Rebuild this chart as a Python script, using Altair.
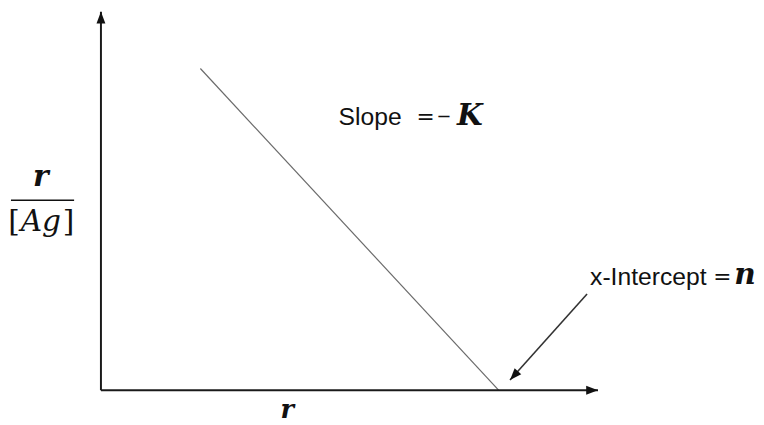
import altair as alt
import pandas as pd

# ---- data (in chart units: r along x, r/[Ag] along y) ----
line_r = [2.0, 8.0]          # Scatchard line start / x-intercept
line_y = [8.5, 0.0]

axis_x_r = [0.0, 10.0]       # x axis (r)
axis_x_y = [0.0, 0.0]
axis_y_r = [0.0, 0.0]        # y axis (r/[Ag])
axis_y_y = [0.0, 10.0]

ann_r = [9.78, 8.23]         # annotation arrow from label to intercept
ann_y = [2.54, 0.27]

head_r = [0.0, 10.0, 8.23]
head_y = [10.0, 0.0, 0.27]
head_angle = [0, 90, 222]

frac_r = [-1.81, -0.54]
frac_y = [5.02, 5.02]

sans_text = ["Slope", "x-Intercept"]
sans_r = [4.78, 9.84]
sans_y = [7.21, 2.99]

eq_text = ["=", "="]
eq_r = [6.53, 12.50]
eq_y = [7.21, 2.99]

minus_text = ["\u2212"]
minus_r = [6.90]
minus_y = [7.21]

var_text = ["K", "n", "r"]
var_r = [7.42, 12.96, -1.21]
var_y = [7.25, 3.05, 5.62]

xlab_text = ["r"]
xlab_r = [3.75]
xlab_y = [-0.535]

br_text = ["[", "]"]
br_r = [-1.75, -0.65]
br_y = [4.45, 4.45]

ag_text = ["Ag"]
ag_r = [-1.21]
ag_y = [4.45]

X_DOMAIN = [-1.85, 13.0]
Y_DOMAIN = [-0.665, 10.0]

SANS = "Liberation Sans"
SERIF = "DejaVu Serif"

xs = alt.Scale(domain=X_DOMAIN, nice=False, zero=False)
ys = alt.Scale(domain=Y_DOMAIN, nice=False, zero=False)


def X(f="r"):
    return alt.X(f, type="quantitative", scale=xs, axis=None)


def Y(f="y"):
    return alt.Y(f, type="quantitative", scale=ys, axis=None)


def segment(r, y, color, width):
    df = pd.DataFrame({"r": [r[0]], "y": [y[0]], "r2": [r[1]], "y2": [y[1]]})
    return alt.Chart(df).mark_rule(color=color, strokeWidth=width).encode(
        x=X(), y=Y(), x2="r2", y2="y2"
    )


def texts(r, y, t, **kw):
    return alt.Chart(pd.DataFrame({"r": r, "y": y, "t": t})).mark_text(
        baseline="middle", color="#111111", **kw
    ).encode(x=X(), y=Y(), text="t:N")


main_line = alt.Chart(pd.DataFrame({"r": line_r, "y": line_y})).mark_line(
    color="#6a6a6a", strokeWidth=1.2
).encode(x=X(), y=Y())

x_axis = segment(axis_x_r, axis_x_y, "#1a1a1a", 2)
y_axis = segment(axis_y_r, axis_y_y, "#1a1a1a", 2)
ann_line = segment(ann_r, ann_y, "#333333", 1.6)
frac_line = segment(frac_r, frac_y, "#111111", 1.6)

heads = alt.Chart(
    pd.DataFrame({"r": head_r, "y": head_y, "a": head_angle})
).mark_point(
    shape="M0,0L0.45,1.2L-0.45,1.2Z", filled=True, size=400,
    color="#111111", opacity=1, strokeWidth=0
).encode(x=X(), y=Y(), angle=alt.Angle("a:Q", scale=None))

sans = texts(sans_r, sans_y, sans_text, font=SANS, fontSize=25, align="left")
eqs = texts(eq_r, eq_y, eq_text, font=SERIF, fontSize=22, align="center")
minus = texts(minus_r, minus_y, minus_text, font=SERIF, fontSize=18, align="center")
vars_ = texts(var_r, var_y, var_text, font=SERIF, fontSize=30,
              fontStyle="italic", fontWeight="bold", align="center")
xlab = texts(xlab_r, xlab_y, xlab_text, font=SERIF, fontSize=26,
             fontStyle="italic", fontWeight="bold", align="center")
brackets = texts(br_r, br_y, br_text, font=SERIF, fontSize=30, align="center")
ag = texts(ag_r, ag_y, ag_text, font=SERIF, fontSize=30,
           fontStyle="italic", align="center")

chart = alt.layer(
    main_line, x_axis, y_axis, ann_line, frac_line, heads, sans, eqs, minus, vars_,
    xlab, brackets, ag
).properties(
    width=748, height=409, padding=0, background="white"
).configure_view(stroke=None)

chart.save("out.html", embed_options={"renderer": "svg", "actions": False})
